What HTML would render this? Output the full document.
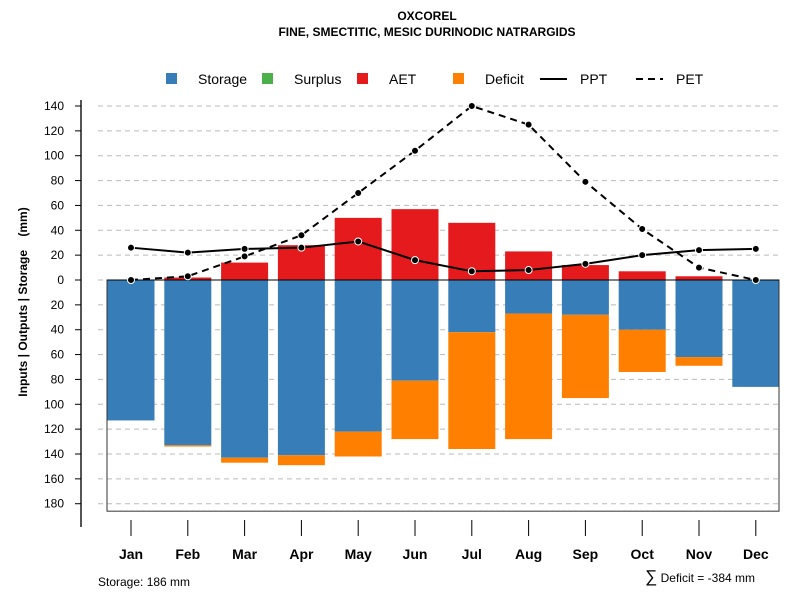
<!DOCTYPE html>
<html><head><meta charset="utf-8"><style>body{margin:0;background:#fff}svg{font-family:"Liberation Sans",sans-serif}</style></head>
<body>
<svg id="c" width="800" height="600">
<text x="427" y="20" text-anchor="middle" font-size="12" font-weight="bold">OXCOREL</text>
<text x="427" y="36" text-anchor="middle" font-size="12" font-weight="bold">FINE, SMECTITIC, MESIC DURINODIC NATRARGIDS</text>
<g id="legend" font-size="14">
<rect x="166" y="73" width="11" height="11" fill="#377EB8"/><text x="198" y="84">Storage</text>
<rect x="262" y="73" width="11" height="11" fill="#4DAF4A"/><text x="294" y="84">Surplus</text>
<rect x="357" y="73" width="11" height="11" fill="#E41A1C"/><text x="389" y="84">AET</text>
<rect x="453" y="73" width="11" height="11" fill="#FF7F00"/><text x="485" y="84">Deficit</text>
<line x1="540" y1="79" x2="567" y2="79" stroke="#000" stroke-width="2"/><text x="580" y="84">PPT</text>
<line x1="636" y1="79" x2="663" y2="79" stroke="#000" stroke-width="2" stroke-dasharray="7,5"/><text x="676" y="84">PET</text>
</g>
<text transform="translate(27,302) rotate(-90)" text-anchor="middle" font-size="12" font-weight="bold">Inputs | Outputs | Storage&#160;&#160;&#160;&#160;(mm)</text>
<text x="98" y="586" font-size="12">Storage: 186 mm</text>
<text x="755" y="582" text-anchor="end" font-size="12"><tspan font-size="17">∑</tspan> Deficit = -384 mm</text>
</svg>
<script>
const months=["Jan","Feb","Mar","Apr","May","Jun","Jul","Aug","Sep","Oct","Nov","Dec"];
const aet=[0,2,14,28,50,57,46,23,12,7,3,0];
const storage=[113,133,143,141,122,81,42,27,28,40,62,86];
const deficit=[0,1,4,8,20,47,94,101,67,34,7,0];
const ppt=[26,22,25,26,31,16,7,8,13,20,24,25];
const pet=[0,3,19,36,70,104,140,125,79,41,10,0];
const yTicks=[140,120,100,80,60,40,20,0,20,40,60,80,100,120,140,160,180];
const yTickSign=[1,1,1,1,1,1,1,1,-1,-1,-1,-1,-1,-1,-1,-1,-1];
const storageCap=186;
const svg=document.getElementById('c');const NS='http://www.w3.org/2000/svg';
const y=v=>280-v*174/140;
const x=i=>131+i*56.8;
function mk(t,a,p){const e=document.createElementNS(NS,t);for(const k in a)e.setAttribute(k,a[k]);(p||svg).appendChild(e);return e;}
mk('line',{x1:81,y1:100,x2:81,y2:527,stroke:'#555','stroke-width':2});
yTicks.forEach((t,i)=>{const yy=y(t*yTickSign[i]);
const g=mk('line',{x1:98,y1:yy,x2:779,y2:yy,stroke:'#bbb','stroke-dasharray':'5,4'});


mk('line',{x1:75,y1:yy,x2:81,y2:yy,stroke:'#000'});
const tx=mk('text',{x:64,y:yy+4,'text-anchor':'end','font-size':12});tx.textContent=t;

});
const bw=47;
months.forEach((m,i)=>{const cx=x(i);
const s=mk('rect',{x:cx-bw/2,y:280,width:bw,height:y(-storage[i])-280,fill:'#377EB8'});


if(deficit[i]>0){const d=mk('rect',{x:cx-bw/2,y:y(-storage[i]),width:bw,height:y(-storage[i]-deficit[i])-y(-storage[i]),fill:'#FF7F00'});

}
if(aet[i]>0){const a=mk('rect',{x:cx-bw/2,y:y(aet[i]),width:bw,height:280-y(aet[i]),fill:'#E41A1C'});

}
mk('line',{x1:cx,y1:520,x2:cx,y2:536,stroke:'#000'});
const l=mk('text',{x:cx,y:559,'text-anchor':'middle','font-size':14,'font-weight':'bold'});l.textContent=m;

});
const box=mk('rect',{x:107,y:280,width:672,height:y(-storageCap)-280,fill:'none',stroke:'#333'});


mk('line',{x1:107,y1:280,x2:779,y2:280,stroke:'#000'});
function series(vals,dash,name){const p=mk('polyline',{points:vals.map((v,i)=>x(i)+','+y(v)).join(' '),fill:'none',stroke:'#000','stroke-width':2,'stroke-dasharray':dash});


vals.forEach((v,i)=>{const c=mk('circle',{cx:x(i),cy:y(v),r:3.5,fill:'#000',stroke:'#fff','stroke-width':1});

});}
series(pet,'7,5','pet');series(ppt,'none','ppt');
</script>
</body></html>
